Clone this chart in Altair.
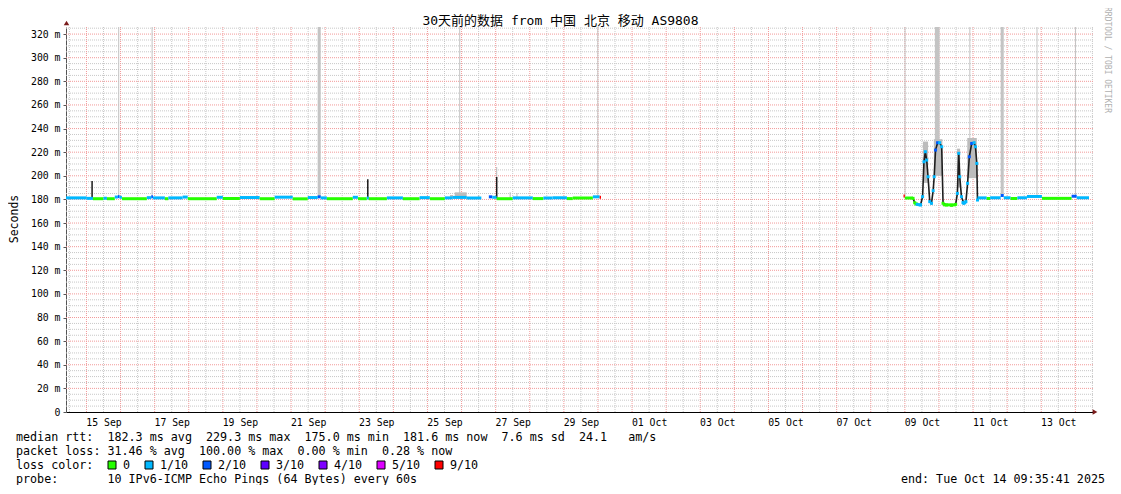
import altair as alt
import pandas as pd

# ---------------- data (time = days since 2025-09-14 00:00) ----------------
# median rtt, flat runs: start, end, rtt (ms), loss level (pings lost of 10)
run_t0 = [0.40, 1.01, 1.19, 1.50, 1.60, 1.83, 1.92, 1.97, 2.04, 2.77, 2.90, 2.95, 3.30, 3.40,
          3.82, 3.97, 4.82, 5.00, 5.50, 6.08, 6.52, 7.05, 7.49, 7.78, 7.87, 8.05, 8.81, 8.96,
          9.22, 9.28, 9.81, 10.28, 10.77, 11.07, 11.51, 11.74, 12.15,
          12.80, 12.90, 13.03, 13.50, 14.09, 14.40, 14.67, 15.09, 15.26, 15.85, 16.05,
          24.96, 25.00, 25.28, 25.38, 26.12, 26.66,
          27.13, 27.40, 27.50, 27.81, 27.90, 28.10, 28.30, 28.58, 29.02, 29.89, 30.04]
run_t1 = [1.01, 1.19, 1.50, 1.60, 1.83, 1.92, 1.97, 2.04, 2.77, 2.90, 2.95, 3.30, 3.40, 3.82,
          3.97, 4.82, 5.00, 5.50, 6.08, 6.52, 7.05, 7.49, 7.78, 7.87, 8.05, 8.81, 8.96, 9.22,
          9.28, 9.81, 10.28, 10.77, 11.07, 11.51, 11.74, 12.15, 12.58,
          12.90, 13.03, 13.50, 14.09, 14.40, 14.67, 15.09, 15.26, 15.85, 16.05, 16.09,
          25.00, 25.24, 25.38, 25.50, 26.50, 26.80,
          27.40, 27.50, 27.81, 27.90, 28.10, 28.30, 28.58, 29.02, 29.89, 30.04, 30.40]
run_rtt = [181.3, 180.9, 180.6, 181.0, 180.6, 182.0, 182.4, 181.8, 180.6, 181.5, 182.2, 181.3, 180.6, 181.3,
           182.0, 180.6, 181.8, 180.8, 181.6, 180.6, 181.9, 180.5, 181.6, 182.2, 181.3, 180.6, 181.8, 180.6,
           181.2, 180.6, 181.3, 180.6, 181.5, 180.6, 181.3, 181.7, 181.2,
           182.2, 181.8, 180.6, 181.3, 180.7, 181.2, 181.4, 180.7, 181.2, 182.2, 181.8,
           182.9, 181.2, 176.2, 175.5, 175.4, 177.3,
           181.3, 180.8, 181.4, 183.3, 181.4, 180.8, 181.4, 182.5, 180.9, 182.7, 181.4]
run_loss = [1, 1, 0, 1, 0, 1, 2, 1, 0, 1, 2, 1, 0, 1,
            1, 0, 1, 0, 1, 0, 1, 0, 1, 2, 1, 0, 1, 0,
            1, 0, 1, 0, 1, 0, 1, 1, 1,
            2, 1, 0, 1, 0, 1, 1, 0, 0, 1, 9,
            9, 0, 0, 1, 0, 1,
            1, 0, 1, 2, 1, 0, 1, 1, 0, 2, 1]

# median rtt during the swings of 09-11 Oct
osc_t = [25.24, 25.29, 25.36, 25.46, 25.52, 25.56, 25.60, 25.64, 25.68, 25.73, 25.78, 25.83,
         25.86, 25.90, 25.96, 26.02, 26.08, 26.12, 26.22, 26.37, 26.49, 26.54, 26.58, 26.61,
         26.66, 26.73, 26.79, 26.84, 26.89, 26.96, 27.03, 27.07, 27.11, 27.13]
osc_rtt = [180.9, 177.2, 175.8, 175.3, 182.3, 211.9, 220.4, 213.3, 199.2, 178.1, 176.7, 187.4,
           199.2, 221.8, 228.0, 228.0, 224.6, 176.7, 175.3, 175.0, 175.8, 185.1, 219.0, 199.2,
           182.3, 176.7, 178.1, 193.6, 216.1, 227.4, 228.0, 224.6, 210.5, 179.5]
osc_loss = [0, 0, 1, 1, 1, 1, 1, 1, 1, 1, 1, 1,
            1, 2, 2, 1, 1, 0, 0, 0, 0, 1, 1, 1,
            1, 1, 1, 1, 2, 2, 1, 1, 1, 1]

# smoke (spread of the 10 pings)
smoke_t0 = [25.53, 25.85, 26.53, 26.83, 11.66, 11.80, 12.48, 13.015, 13.41, 13.61]
smoke_t1 = [25.68, 26.10, 26.62, 27.11, 11.75, 12.15, 12.52, 13.045, 13.44, 13.64]
smoke_lo = [194.0, 200.0, 190.0, 198.0, 181.0, 181.0, 181.0, 181.0, 181.0, 181.0]
smoke_hi = [229.0, 231.0, 223.0, 232.0, 183.7, 186.0, 183.5, 207.5, 186.0, 185.5]

# smoke reaching the top of the graph
bar_t0 = [1.93, 2.91, 7.78, 11.93, 15.98, 24.99, 25.88, 26.89, 27.81, 28.86, 29.99]
bar_t1 = [1.96, 2.94, 7.87, 11.96, 16.01, 25.02, 26.02, 26.92, 27.90, 28.89, 30.02]
bar_lo = [182.0, 182.0, 182.0, 181.0, 182.0, 183.0, 228.0, 229.0, 184.0, 183.0, 183.0]

# dark single spikes
spike_t = [1.165, 9.25, 13.03]
spike_lo = [181.0, 181.0, 181.0]
spike_hi = [195.5, 197.0, 199.0]

x_tick_pos = [1.5, 3.5, 5.5, 7.5, 9.5, 11.5, 13.5, 15.5, 17.5, 19.5, 21.5, 23.5, 25.5, 27.5, 29.5]
x_tick_labels = ["15 Sep", "17 Sep", "19 Sep", "21 Sep", "23 Sep", "25 Sep", "27 Sep", "29 Sep",
                 "01 Oct", "03 Oct", "05 Oct", "07 Oct", "09 Oct", "11 Oct", "13 Oct"]
y_ticks = [0, 20, 40, 60, 80, 100, 120, 140, 160, 180, 200, 220, 240, 260, 280, 300, 320]
y_tick_labels = ["0", "20 m", "40 m", "60 m", "80 m", "100 m", "120 m", "140 m", "160 m", "180 m",
                 "200 m", "220 m", "240 m", "260 m", "280 m", "300 m", "320 m"]

loss_levels = [0, 1, 2, 3, 4, 5, 9]
loss_names = ["0", "1/10", "2/10", "3/10", "4/10", "5/10", "9/10"]
loss_colors = ["#26ff00", "#00b8ff", "#0059ff", "#5e00ff", "#7e00ff", "#dd00ff", "#ff0000"]

title_text = "30天前的数据 from 中国 北京 移动 AS9808"
stats_lines = [
    "median rtt:  182.3 ms avg  229.3 ms max  175.0 ms min  181.6 ms now  7.6 ms sd  24.1   am/s",
    "packet loss: 31.46 % avg  100.00 % max  0.00 % min  0.28 % now",
    "loss color:",
    "probe:       10 IPv6-ICMP Echo Pings (64 Bytes) every 60s",
]
end_text = "end: Tue Oct 14 09:35:41 2025"
y_title = "Seconds"
watermark = "RRDTOOL / TOBI OETIKER"

# ---------------- layout ----------------
FONT = "DejaVu Sans Mono, Noto Sans CJK SC, monospace"
W, H = 1027, 385
LEFT, TOP = 58, 19          # plot origin on page = (66, 27)
BOTTOM = 73
PX_PER_DAY = 34.1
X_MIN = 0.40
X_MAX = X_MIN + W / PX_PER_DAY
Y_MAX = 326

xscale = alt.Scale(domain=[X_MIN, X_MAX], nice=False, zero=False)
yscale = alt.Scale(domain=[0, Y_MAX], nice=False, zero=False)

x_expr = "[" + ",".join("'%s'" % s for s in x_tick_labels) + "][round((datum.value - %s) / 2)]" % x_tick_pos[0]
y_expr = "[" + ",".join("'%s'" % s for s in y_tick_labels) + "][round(datum.value / 20)]"

xax = alt.Axis(values=x_tick_pos, labelExpr=x_expr, grid=False, ticks=False, domain=True,
               domainColor="#000000", domainWidth=1, labelFont=FONT, labelFontSize=9.8,
               labelColor="#000000", labelPadding=5, title=None, labelAngle=0,
               labelOverlap=False, labelFlush=False)
yax = alt.Axis(values=y_ticks, labelExpr=y_expr, grid=False, ticks=True, tickSize=3,
               tickColor="#555555", domain=True, domainColor="#555555", domainWidth=1,
               labelFont=FONT, labelFontSize=9.8, labelColor="#000000", labelPadding=3,
               title=None, labelOverlap=False, labelFlush=False)

color_enc = alt.Color("loss:N", scale=alt.Scale(domain=loss_levels, range=loss_colors), legend=None)

def X(f):
    return alt.X(f, scale=xscale, axis=xax)

def Y(f):
    return alt.Y(f, scale=yscale, axis=yax)

layers = []

# grid
ymin = [v for v in range(5, Y_MAX, 5) if v % 20]
ymaj = list(range(20, Y_MAX, 20))
xmin = [d + 0.5 for d in range(0, 31) if X_MIN <= d + 0.5 <= X_MAX]
xmaj = [d for d in range(1, 31)]
layers.append(alt.Chart(pd.DataFrame({"v": ymin})).mark_rule(color="#c8c8c8", strokeDash=[1, 1], strokeWidth=1)
              .encode(y=Y("v:Q")))
layers.append(alt.Chart(pd.DataFrame({"v": xmin})).mark_rule(color="#c8c8c8", strokeDash=[1, 1], strokeWidth=1)
              .encode(x=X("v:Q")))
layers.append(alt.Chart(pd.DataFrame({"v": ymaj})).mark_rule(color="#f29a9a", strokeDash=[1, 1], strokeWidth=1)
              .encode(y=Y("v:Q")))
layers.append(alt.Chart(pd.DataFrame({"v": xmaj})).mark_rule(color="#f29a9a", strokeDash=[1, 1], strokeWidth=1)
              .encode(x=X("v:Q")))

# smoke bars to the top
bars = pd.DataFrame({"t0": bar_t0, "t1": bar_t1, "lo": bar_lo, "hi": [Y_MAX] * len(bar_t0)})
layers.append(alt.Chart(bars).mark_rect(color="#c4c4c4")
              .encode(x=X("t0:Q"), x2="t1:Q", y=Y("lo:Q"), y2="hi:Q"))

# smoke
smoke = pd.DataFrame({"t0": smoke_t0, "t1": smoke_t1, "lo": smoke_lo, "hi": smoke_hi})
layers.append(alt.Chart(smoke).mark_rect(color="#bcbcbc")
              .encode(x=X("t0:Q"), x2="t1:Q", y=Y("lo:Q"), y2="hi:Q"))

# spikes
spikes = pd.DataFrame({"t": spike_t, "lo": spike_lo, "hi": spike_hi})
layers.append(alt.Chart(spikes).mark_rule(color="#1a1a1a", strokeWidth=1.5)
              .encode(x=X("t:Q"), y=Y("lo:Q"), y2="hi:Q"))

# dark swing line
osc = pd.DataFrame({"t": osc_t, "rtt": osc_rtt, "loss": osc_loss})
layers.append(alt.Chart(osc).mark_line(color="#1e1e1e", strokeWidth=1.6, interpolate="linear")
              .encode(x=X("t:Q"), y=Y("rtt:Q")))

# median runs
runs = pd.DataFrame({"t0": run_t0, "t1": run_t1, "rtt": run_rtt, "loss": run_loss})
layers.append(alt.Chart(runs).mark_rule(strokeWidth=3)
              .encode(x=X("t0:Q"), x2="t1:Q", y=Y("rtt:Q"), color=color_enc))

# median points in the swings
layers.append(alt.Chart(osc).mark_square(size=9, opacity=1)
              .encode(x=X("t:Q"), y=Y("rtt:Q"), color=color_enc))

# ---------------- text & decorations ----------------
one = pd.DataFrame({"s": [""]})
NBSP = "\u00a0"

def txt(s, x, y, size, align="left", angle=0, color="#000000"):
    return (alt.Chart(pd.DataFrame({"s": [s.replace(" ", NBSP)]}))
            .mark_text(font=FONT, fontSize=size, align=align, baseline="middle", angle=angle, color=color)
            .encode(text="s:N", x=alt.value(x), y=alt.value(y)))

def px(page_x):
    return page_x - (LEFT + 8)

def py(page_y):
    return page_y - (TOP + 8)

# axis arrows
layers.append(alt.Chart(one).mark_point(shape="triangle-up", filled=True, color="#7a1c1c", size=30, opacity=1)
              .encode(x=alt.value(0.5), y=alt.value(-4)))
layers.append(alt.Chart(one).mark_point(shape="triangle-right", filled=True, color="#7a1c1c", size=30, opacity=1)
              .encode(x=alt.value(W + 2), y=alt.value(H)))

layers.append(txt(title_text, px(560.5), py(21), 13, align="center"))
layers.append(txt(y_title, px(15), py(219), 11.5, align="center", angle=270))
layers.append(txt(watermark, px(1107), py(60), 8, align="center", angle=90, color="#b0b0b0"))

line_y = [437, 451, 465, 479]
for s, yy in zip(stats_lines, line_y):
    layers.append(txt(s, px(16), py(yy), 11.7))
layers.append(txt(end_text, px(1105), py(479), 11.7, align="right"))

sq_left = [108, 145, 203, 261, 319, 377, 435]
lab_left = [123, 160, 218, 276, 334, 392, 450]
for c, name, sl, ll in zip(loss_colors, loss_names, sq_left, lab_left):
    layers.append(alt.Chart(one).mark_rect(color=c, stroke="#000000", strokeWidth=1)
                  .encode(x=alt.value(px(sl)), x2=alt.value(px(sl) + 8),
                          y=alt.value(py(461)), y2=alt.value(py(469))))
    layers.append(txt(name, px(ll), py(465), 11.7))

chart = (alt.layer(*layers)
         .properties(width=W, height=H,
                     padding={"left": LEFT, "top": TOP, "right": 1105 - LEFT - W, "bottom": BOTTOM},
                     autosize=alt.AutoSizeParams(type="none"),
                     background="#ffffff")
         .configure_view(stroke=None))

chart.save("out.html", embed_options={"renderer": "svg", "actions": False})
